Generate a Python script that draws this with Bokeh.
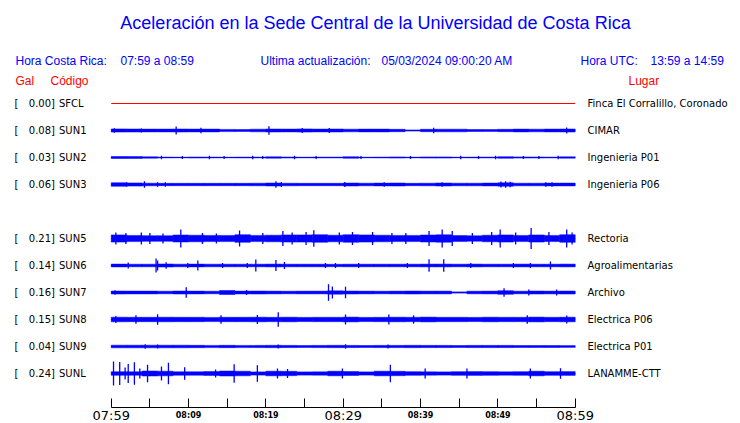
from bokeh.plotting import figure
from bokeh.models import Range1d, LinearAxis, FixedTicker, Label, LabelSet, ColumnDataSource
from bokeh.core.properties import value
from bokeh.embed import file_html
from bokeh.resources import INLINE

# ---------------- data ----------------
TITLE = "Aceleración en la Sede Central de la Universidad de Costa Rica"
INFO = [("Hora Costa Rica:", 15), ("07:59 a 08:59", 120),
        ("Ultima actualización:", 260), ("05/03/2024 09:00:20 AM", 381),
        ("Hora UTC:", 580), ("13:59 a 14:59", 650)]
HEADERS = [("Gal", 15), ("Código", 50), ("Lugar", 628)]

CODES = ["SFCL", "SUN1", "SUN2", "SUN3", "SUN5", "SUN6", "SUN7", "SUN8", "SUN9", "SUNL"]
PLACES = ["Finca El Corralillo, Coronado", "CIMAR", "Ingenieria P01", "Ingenieria P06",
          "Rectoria", "Agroalimentarias", "Archivo", "Electrica P06", "Electrica P01",
          "LANAMME-CTT"]
GAL = [0.00, 0.08, 0.03, 0.06, 0.21, 0.14, 0.16, 0.15, 0.04, 0.24]
SLOTS = [0, 1, 2, 3, 5, 6, 7, 8, 9, 10]          # SUN4 slot is empty
COLORS = ["#ff0000"] + ["#0000ff"] * 9

TICK_MIN = [0, 10, 20, 30, 40, 50, 60]
TICK_LABELS = ["07:59", "08:09", "08:19", "08:29", "08:39", "08:49", "08:59"]
BIG_TICKS = [0, 30, 60]
BIN_MIN = 2  # envelope bins of 2 minutes

# envelope half-widths (px) per 2-min bin
BAND_SFCL = [0.0] * 30
BAND_SUN1 = [1.6, 1.5, 1.4, 1.4, 1.5, 1.4, 1.4, 1.1, 1.0, 1.3, 1.5, 1.4, 1.6, 1.4, 1.5,
             1.3, 1.4, 1.4, 1.2, 0.6, 1.2, 1.3, 1.3, 1.0, 0.9, 1.2, 1.4, 1.3, 1.4, 1.5]
BAND_SUN2 = [1.0, 0.9, 0.7, 0.4, 0.3, 0.5, 0.4, 0.3, 0.4, 0.4, 0.7, 0.5, 0.3, 0.4, 0.4,
             0.8, 0.3, 0.4, 0.6, 0.3, 0.6, 0.6, 0.3, 0.4, 0.4, 0.8, 0.6, 0.5, 0.4, 0.7]
BAND_SUN3 = [1.8, 1.6, 1.3, 1.2, 1.2, 1.2, 1.2, 1.2, 1.2, 1.3, 1.5, 1.3, 1.2, 1.2, 1.2,
             1.5, 1.3, 1.4, 1.5, 1.2, 1.3, 1.5, 1.3, 1.3, 1.4, 1.7, 1.3, 1.3, 1.4, 1.4]
BAND_SUN5 = [3.6, 3.1, 2.8, 2.8, 3.5, 3.3, 3.1, 3.1, 3.8, 3.1, 3.3, 3.6, 3.6, 3.8, 3.3,
             3.8, 3.6, 3.3, 3.1, 3.1, 3.5, 3.7, 2.9, 2.7, 3.3, 3.6, 3.1, 3.6, 3.1, 3.8]
BAND_SUN6 = [1.4, 1.3, 1.3, 1.5, 1.3, 1.4, 1.3, 1.3, 1.3, 1.3, 1.4, 1.3, 1.3, 1.3, 1.2,
             1.3, 1.3, 1.3, 1.3, 1.3, 1.4, 1.4, 1.3, 1.4, 1.3, 1.3, 1.4, 1.3, 1.3, 1.4]
BAND_SUN7 = [1.5, 1.4, 1.4, 1.3, 1.5, 1.4, 1.3, 2.0, 1.4, 1.5, 1.4, 1.3, 1.4, 1.4, 1.7,
             1.5, 1.4, 1.3, 1.4, 1.5, 1.4, 1.4, 0.6, 1.3, 1.4, 1.8, 1.3, 1.5, 1.4, 1.5]
BAND_SUN8 = [2.3, 2.2, 2.2, 2.3, 2.2, 2.2, 2.1, 2.2, 2.2, 2.3, 2.2, 2.3, 2.1, 2.2, 2.2,
             2.4, 2.1, 2.2, 2.3, 2.2, 2.4, 2.2, 2.2, 2.1, 2.3, 2.2, 2.2, 2.4, 2.2, 2.3]
BAND_SUN9 = [1.3, 1.3, 1.3, 1.3, 1.3, 1.2, 1.1, 1.2, 1.1, 1.1, 1.2, 1.1, 1.0, 1.1, 1.2,
             1.1, 1.0, 1.1, 1.1, 1.2, 1.1, 1.1, 1.0, 1.1, 1.1, 1.1, 1.0, 1.0, 1.0, 0.9]
BAND_SUNL = [1.8, 1.7, 2.5, 2.3, 1.7, 1.7, 1.9, 2.5, 2.3, 1.6, 2.3, 2.2, 1.6, 1.7, 2.3,
             2.0, 1.6, 2.3, 2.2, 1.8, 1.7, 1.6, 1.8, 1.9, 1.8, 1.7, 1.8, 2.3, 1.8, 1.9]

# individual peaks: minute and half-amplitude (px)
SPK_T_SFCL, SPK_A_SFCL = [], []
SPK_T_SUN1 = [0.4, 3.9, 8.4, 11.6, 20.4, 24.7, 28.2, 41.7, 58.9]
SPK_A_SUN1 = [2.3, 2.0, 4.0, 2.8, 4.3, 2.5, 2.5, 2.8, 3.0]
SPK_T_SUN2 = [6.5, 9.2, 12.7, 14.6, 18.3, 19.6, 23.7, 26.5, 32.3, 38.7, 45.2, 47.5, 49.7, 53.3, 55.3, 57.8]
SPK_A_SUN2 = [1.8, 1.6, 1.8, 1.6, 1.8, 1.6, 1.8, 1.6, 1.6, 1.6, 1.8, 1.6, 1.8, 1.6, 1.6, 1.8]
SPK_T_SUN3 = [2.0, 4.3, 6.0, 7.0, 21.3, 22.0, 30.2, 35.3, 42.8, 50.4, 51.0, 51.6, 56.2, 57.0]
SPK_A_SUN3 = [2.3, 3.3, 2.2, 2.2, 3.3, 2.5, 2.5, 2.3, 2.3, 3.0, 3.3, 2.8, 2.3, 2.3]
SPK_T_SUN5 = [0.6, 1.9, 3.9, 5.0, 6.7, 9.0, 11.8, 13.6, 16.6, 19.6, 22.2, 23.4, 25.2, 26.2,
              29.5, 31.2, 33.8, 36.3, 38.1, 41.1, 42.8, 44.1, 46.7, 49.2, 50.3, 52.3, 54.3,
              56.6, 58.9, 59.6]
SPK_A_SUN5 = [6.0, 5.5, 6.0, 5.5, 5.0, 9.0, 5.5, 5.0, 8.0, 5.5, 7.5, 6.0, 6.5, 8.3,
              6.0, 6.5, 6.5, 5.5, 5.5, 7.5, 9.0, 7.5, 5.5, 6.5, 9.0, 6.0, 10.5,
              6.5, 9.0, 6.0]
SPK_T_SUN6 = [2.2, 5.8, 6.0, 7.1, 9.9, 11.2, 14.4, 17.6, 18.7, 21.3, 22.4, 27.7, 29.0, 32.0,
              38.3, 41.1, 43.0, 46.5, 52.0, 54.2, 56.8]
SPK_A_SUN6 = [3.0, 7.0, 5.0, 3.3, 2.5, 5.0, 2.5, 2.5, 6.0, 5.5, 3.5, 2.5, 2.5, 2.5,
              2.5, 6.3, 6.3, 2.5, 2.5, 2.5, 4.0]
SPK_T_SUN7 = [0.5, 9.7, 17.5, 28.1, 28.6, 30.3, 50.8, 54.0, 57.6]
SPK_A_SUN7 = [2.3, 5.3, 2.5, 8.3, 6.0, 5.8, 4.3, 3.0, 3.0]
SPK_T_SUN8 = [0.6, 3.2, 6.0, 14.2, 18.9, 21.6, 30.3, 35.9, 39.1, 53.8, 58.9]
SPK_A_SUN8 = [3.5, 4.3, 5.3, 4.2, 4.5, 7.2, 5.0, 5.0, 4.2, 4.2, 4.0]
SPK_T_SUN9 = [4.4, 6.0, 21.6, 30.3, 35.8]
SPK_A_SUN9 = [2.3, 2.0, 2.0, 2.3, 2.0]
SPK_T_SUNL = [0.3, 1.1, 1.8, 2.2, 3.0, 3.7, 4.7, 6.5, 7.4, 9.5, 13.5, 15.9, 18.9, 21.5, 22.8,
              29.9, 36.1, 40.6, 46.0, 54.2, 58.1]
SPK_A_SUNL = [12.0, 11.5, 6.0, 9.5, 11.3, 5.0, 8.7, 7.0, 10.8, 6.2, 4.0, 9.3, 8.3, 5.0, 4.5,
              5.0, 8.7, 5.0, 5.0, 5.0, 5.3]

BANDS = [BAND_SFCL, BAND_SUN1, BAND_SUN2, BAND_SUN3, BAND_SUN5, BAND_SUN6, BAND_SUN7,
         BAND_SUN8, BAND_SUN9, BAND_SUNL]
SPK_T = [SPK_T_SFCL, SPK_T_SUN1, SPK_T_SUN2, SPK_T_SUN3, SPK_T_SUN5, SPK_T_SUN6, SPK_T_SUN7,
         SPK_T_SUN8, SPK_T_SUN9, SPK_T_SUNL]
SPK_A = [SPK_A_SFCL, SPK_A_SUN1, SPK_A_SUN2, SPK_A_SUN3, SPK_A_SUN5, SPK_A_SUN6, SPK_A_SUN7,
         SPK_A_SUN8, SPK_A_SUN9, SPK_A_SUNL]

# ---------------- layout ----------------
W, H = 740, 423
X0_PX, X1_PX = 110.7, 574.7          # px of minute 0 and minute 60
SPAN = 60.0
S = (X1_PX - X0_PX) / SPAN
ROW0, ROW_STEP = 103, 27
AXIS_Y = 407

p = figure(width=W, height=H, output_backend="svg", toolbar_location=None,
           x_axis_location=None, y_axis_location=None,
           x_range=Range1d(-X0_PX / S, (W - X0_PX) / S),
           y_range=Range1d(H, 0),
           min_border=0, min_border_left=0, min_border_right=0,
           min_border_top=0, min_border_bottom=0)
p.outline_line_color = None
p.background_fill_color = "white"
p.border_fill_color = "white"
p.xgrid.visible = False
p.ygrid.visible = False

bases = [ROW0 + ROW_STEP * s for s in SLOTS]

# centre lines
p.segment(x0=[0] * len(CODES), x1=[SPAN] * len(CODES), y0=bases, y1=bases,
          line_color=COLORS, line_width=1)

# envelope bands
q = dict(left=[], right=[], top=[], bottom=[], color=[])
for base, band, col in zip(bases, BANDS, COLORS):
    for k, h in enumerate(band):
        if h <= 0:
            continue
        q["left"].append(k * BIN_MIN)
        q["right"].append((k + 1) * BIN_MIN)
        q["top"].append(base - h)
        q["bottom"].append(base + h)
        q["color"].append(col)
p.quad(source=ColumnDataSource(q), left="left", right="right", top="top", bottom="bottom",
       fill_color="color", line_color="color", line_width=0.5)

# peaks
sp = dict(x=[], y0=[], y1=[], color=[])
for base, ts, as_, col in zip(bases, SPK_T, SPK_A, COLORS):
    for t, a in zip(ts, as_):
        sp["x"].append(t)
        sp["y0"].append(base - a)
        sp["y1"].append(base + a)
        sp["color"].append(col)
p.segment(source=ColumnDataSource(sp), x0="x", x1="x", y0="y0", y1="y1",
          line_color="color", line_width=1.3)

# axes (time)
big_over = {m: "" for m in range(0, 61, 5)}
for m, lab in zip(TICK_MIN, TICK_LABELS):
    if m in BIG_TICKS:
        big_over[m] = lab
ax1 = LinearAxis(fixed_location=AXIS_Y, ticker=FixedTicker(ticks=list(range(0, 61, 5))),
                 major_label_overrides=big_over, bounds=(0, 60))
ax1.major_tick_in = 9
ax1.major_tick_out = 0
ax1.minor_tick_in = 0
ax1.minor_tick_out = 0
ax1.axis_line_color = "black"
ax1.major_tick_line_color = "black"
ax1.major_label_standoff = 0
ax1.major_label_text_font = "DejaVu Sans"
ax1.major_label_text_font_size = "13px"
ax1.major_label_text_color = "black"
p.add_layout(ax1, "below")

small_ticks = [m for m in TICK_MIN if m not in BIG_TICKS]
small_over = {m: lab for m, lab in zip(TICK_MIN, TICK_LABELS) if m not in BIG_TICKS}
ax2 = LinearAxis(fixed_location=AXIS_Y, ticker=FixedTicker(ticks=small_ticks),
                 major_label_overrides=small_over, bounds=(0, 60))
ax2.major_tick_in = 0
ax2.major_tick_out = 0
ax2.minor_tick_in = 0
ax2.minor_tick_out = 0
ax2.axis_line_color = None
ax2.major_tick_line_color = None
ax2.major_label_standoff = 3
ax2.major_label_text_font = "DejaVu Sans"
ax2.major_label_text_font_style = "bold"
ax2.major_label_text_font_size = "8px"
ax2.major_label_text_color = "black"
p.add_layout(ax2, "below")

# texts
BLUE = "#0000ff"
RED = "#ff0000"
p.add_layout(Label(x=375, y=22, x_units="screen", text=TITLE, text_align="center",
                   text_baseline="middle", text_font="Liberation Sans",
                   text_font_size="18px", text_color=BLUE))
for txt, xp in INFO:
    p.add_layout(Label(x=xp, y=60, x_units="screen", text=txt, text_align="left",
                       text_baseline="middle", text_font="Liberation Sans",
                       text_font_size="12px", text_color=BLUE))
for txt, xp in HEADERS:
    p.add_layout(Label(x=xp, y=80, x_units="screen", text=txt, text_align="left",
                       text_baseline="middle", text_font="Liberation Sans",
                       text_font_size="12px", text_color=RED))

src = ColumnDataSource(dict(y=bases, gal=[f"{g:.2f}]" for g in GAL], code=CODES,
                            place=PLACES))
common = dict(y="y", source=src, x_units="screen", text_baseline="middle",
              text_font=value("DejaVu Sans"), text_font_size="10px", text_color="black")
p.add_layout(LabelSet(x=14, text=value("["), text_align="left", **common))
p.add_layout(LabelSet(x=54.5, text="gal", text_align="right", **common))
p.add_layout(LabelSet(x=58.5, text="code", text_align="left", **common))
p.add_layout(LabelSet(x=587, text="place", text_align="left", **common))

open("out.html", "w").write(file_html(p, INLINE))
